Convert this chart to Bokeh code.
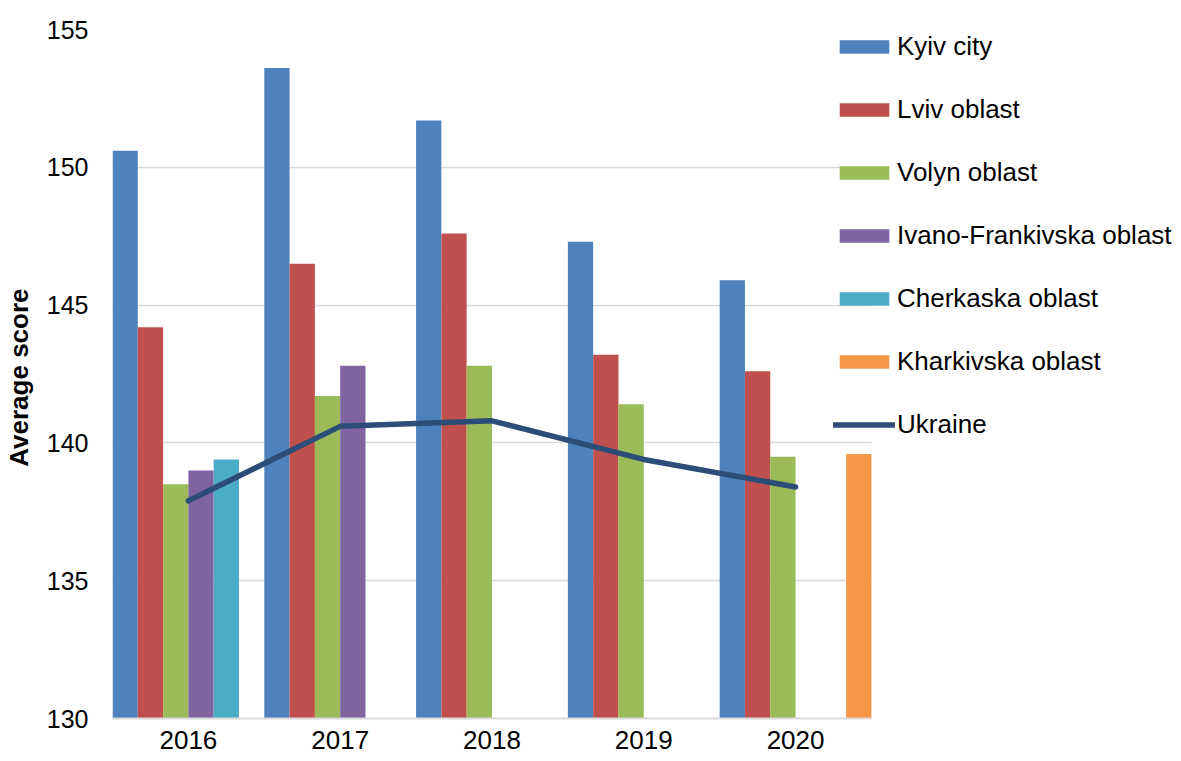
from bokeh.plotting import figure
from bokeh.models import Range1d, ColumnDataSource, Legend, LegendItem, FixedTicker
from bokeh.transform import dodge
from bokeh.embed import file_html
from bokeh.resources import INLINE

# ---- data ----
years = ["2016", "2017", "2018", "2019", "2020"]
kyiv = [150.6, 153.6, 151.7, 147.3, 145.9]
lviv = [144.2, 146.5, 147.6, 143.2, 142.6]
volyn = [138.5, 141.7, 142.8, 141.4, 139.5]
ivano = [139.0, 142.8, None, None, None]
cherkaska = [139.4, None, None, None, None]
kharkivska = [None, None, None, None, 139.6]
ukraine = [137.9, 140.6, 140.8, 139.4, 138.4]

series_names = ["Kyiv city", "Lviv oblast", "Volyn oblast", "Ivano-Frankivska oblast",
                "Cherkaska oblast", "Kharkivska oblast"]
series_values = [kyiv, lviv, volyn, ivano, cherkaska, kharkivska]
colors = ["#4F81BD", "#C0504D", "#9BBB59", "#8064A2", "#4BACC6", "#F79646"]
y_ticks = [130, 135, 140, 145, 150, 155]

FONT = "Liberation Sans"
idx = list(range(len(years)))
x_lo, x_hi = -0.5, len(years) - 0.5

# frame is wider than the category area so the legend can sit inside it
p = figure(x_range=Range1d(x_lo, x_hi + 1.99),
           y_range=Range1d(130, 155),
           width=1173, height=760,
           min_border_left=112, min_border_top=29, min_border_right=0, min_border_bottom=42,
           output_backend="svg", toolbar_location=None)

n = len(series_names)
bw = 1.0 / n
items = []
for i, (name, vals, col) in enumerate(zip(series_names, series_values, colors)):
    xs = [k for k, v in zip(idx, vals) if v is not None]
    vs = [v for v in vals if v is not None]
    src = ColumnDataSource(dict(x=xs, val=vs))
    r = p.vbar(x=dodge("x", (i - (n - 1) / 2) * bw), top="val",
               width=bw, source=src, fill_color=col, line_color=None)
    items.append(LegendItem(label=name, renderers=[r]))

usrc = ColumnDataSource(dict(x=idx, val=ukraine))
rl = p.line(x="x", y="val", source=usrc, line_color="#2C4D77", line_width=5.5,
            line_cap="round", line_join="round")
items.append(LegendItem(label="Ukraine", renderers=[rl]))

legend = Legend(items=items, location=(721, 278), orientation="vertical",
                padding=0, margin=0, spacing=31, glyph_width=62, glyph_height=17,
                label_height=32, label_standoff=2,
                label_text_font_size="26px", label_text_font=FONT, label_text_color="#000000",
                border_line_alpha=0, background_fill_alpha=0)
p.add_layout(legend)

# grid limited to the category area
grid = p.ygrid[0]
if "cross_bounds" in grid.properties():
    grid.cross_bounds = (x_lo, x_hi)
    grid.grid_line_color = "#D9D9D9"
    grid.grid_line_width = 1.5
    grid.level = "underlay"
else:
    grid.visible = False
    p.segment(x0=x_lo, x1=x_hi, y0=y_ticks, y1=y_ticks, line_color="#D9D9D9",
              line_width=1.5, level="underlay")

p.outline_line_color = None
p.xgrid.grid_line_color = None
p.yaxis.ticker = FixedTicker(ticks=y_ticks)
p.yaxis.axis_line_color = None
p.yaxis.major_tick_line_color = None
p.yaxis.major_tick_out = 0
p.yaxis.major_tick_in = 0
p.yaxis.minor_tick_line_color = None
p.yaxis.major_label_standoff = 24
p.yaxis.major_label_text_font = FONT
p.yaxis.major_label_text_font_size = "25px"
p.yaxis.major_label_text_color = "#000000"
p.yaxis.axis_label = "Average  score"
p.yaxis.axis_label_text_font = FONT
p.yaxis.axis_label_text_font_size = "26px"
p.yaxis.axis_label_text_font_style = "bold"
p.yaxis.axis_label_text_color = "#000000"
p.yaxis.axis_label_standoff = 10

p.xaxis.ticker = FixedTicker(ticks=idx)
p.xaxis.major_label_overrides = {k: y for k, y in zip(idx, years)}
p.xaxis.bounds = (x_lo, x_hi)
p.xaxis.axis_line_color = "#D9D9D9"
p.xaxis.axis_line_width = 2
p.xaxis.major_tick_line_color = None
p.xaxis.major_tick_out = 0
p.xaxis.major_tick_in = 0
p.xaxis.minor_tick_line_color = None
p.xaxis.major_label_standoff = 12
p.xaxis.major_label_text_font = FONT
p.xaxis.major_label_text_font_size = "26px"
p.xaxis.major_label_text_color = "#000000"

open("out.html", "w").write(file_html(p, INLINE))
